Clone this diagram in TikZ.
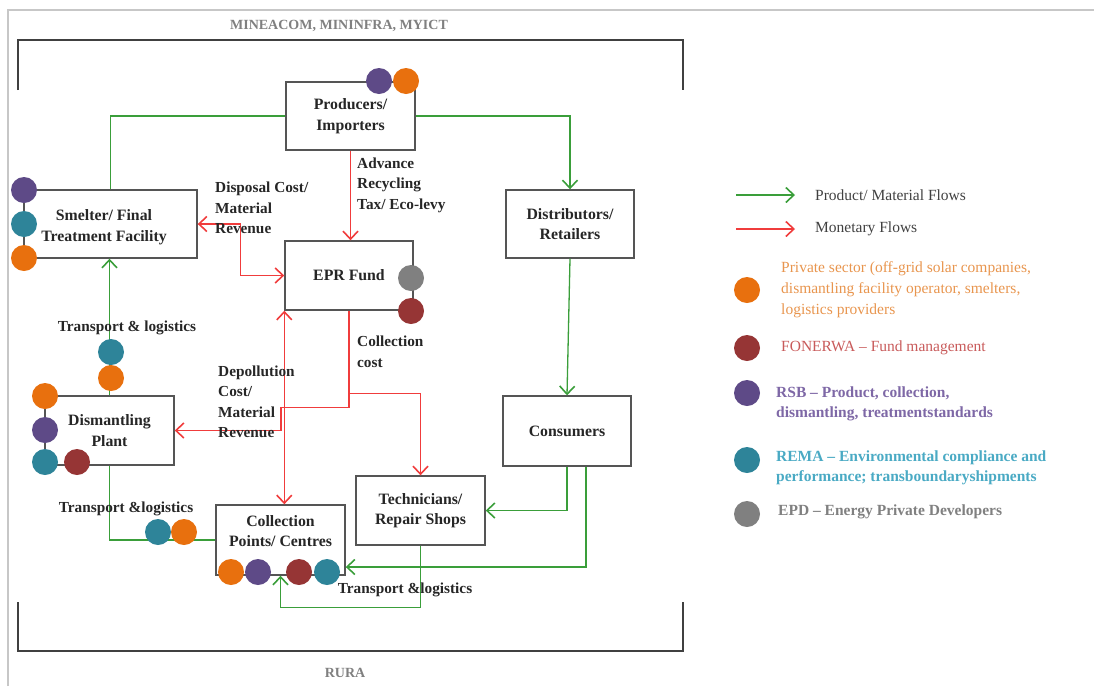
\documentclass[tikz,border=0pt]{standalone}
\usepackage{fontspec}
\setmainfont{Liberation Serif}
\usetikzlibrary{arrows.meta,calc}

\definecolor{cOrange}{HTML}{E8700E}
\definecolor{cPurple}{HTML}{5E4A87}
\definecolor{cTeal}{HTML}{2E8499}
\definecolor{cMaroon}{HTML}{963535}
\definecolor{cGray}{HTML}{808080}
\definecolor{flowGreen}{HTML}{3A9E3A}
\definecolor{flowRed}{HTML}{F03C3C}
\definecolor{edgeGray}{HTML}{555555}
\definecolor{txtOrange}{HTML}{E8954E}
\definecolor{txtMaroon}{HTML}{C85A5A}
\definecolor{txtPurple}{HTML}{7E68A6}
\definecolor{txtTeal}{HTML}{4AAAC4}

\tikzset{
  actor/.style={draw=edgeGray, line width=1.4pt, fill=white,
    minimum width=128pt, minimum height=68pt, align=center,
    font=\bfseries\fontsize{15.8}{20.5}\selectfont, text=black!85},
  dot/.style={circle, minimum size=26pt, inner sep=0pt},
  mat/.style={draw=flowGreen, line width=1.3pt},
  money/.style={draw=flowRed, line width=1.3pt},
  lbl/.style={font=\bfseries\fontsize{15.3}{20.5}\selectfont, align=left, text=black!85, inner sep=0pt},
  gov/.style={font=\bfseries\fontsize{14}{16}\selectfont, text=black!50},
  legtxt/.style={anchor=west, align=left, inner sep=0pt, font=\fontsize{15.5}{21}\selectfont},
}

\begin{document}
\begin{tikzpicture}[x=1pt, y=-1pt, >={Straight Barb[length=8pt,width=15pt,line width=1.6pt]}]
\useasboundingbox (0,0) rectangle (1094,686);

% page frame
\draw[black!22, line width=1.5pt] (8,686) -- (8,10) -- (1094,10);

% regulator brackets
\draw[black!75, line width=1.3pt] (18,90) -- (18,40) -- (683,40) -- (683,90);
\draw[black!75, line width=1.3pt] (18,602) -- (18,651) -- (683,651) -- (683,602);
\node[gov] (ministries) at (339,26) {MINEACOM, MININFRA, MYICT};
\node[gov] (rura) at (345,673) {RURA};

% actors
\node[actor, minimum width=129pt] (prod) at (350.5,116) {Producers/\\Importers};
\node[actor, minimum width=173pt] (smelt) at (110.5,224) {};
\node[lbl, align=center, font=\bfseries\fontsize{15.8}{20.5}\selectfont] (smelttxt) at (104,227) {Smelter/ Final\\Treatment Facility};
\node[actor, minimum height=69pt] (epr) at (349,275.5) {EPR Fund};
\node[actor] (dist) at (570,224) {Distributors/\\Retailers};
\node[actor, minimum width=129pt, minimum height=69pt] (dism) at (109.5,430.5) {Dismantling\\Plant};
\node[actor, minimum height=70pt] (cons) at (567,431) {Consumers};
\node[actor, minimum width=129pt, minimum height=69pt] (tech) at (420.5,510.5) {Technicians/\\Repair Shops};
\node[actor, minimum width=129pt, minimum height=70pt] (coll) at (280.5,540) {};
\node[lbl, align=center, font=\bfseries\fontsize{15.8}{20.5}\selectfont] (colltxt) at (280.5,531) {Collection\\Points/ Centres};

% product / material flows
\draw[mat] (prod.west) -| (smelt.north);
\draw[mat,->] (prod.east) -| (dist.north);
\draw[mat,->] (dist.south) -- (cons.north);
\draw[mat,->] (cons.south) |- (tech.east);
\draw[mat,->] ($(cons.south)+(19,0)$) |- ($(coll.east)+(0,27)$);
\draw[mat,->] (tech.south) -- ++(0,62) -| (coll.south);
\draw[mat] (dism.south) |- (coll.west);
\draw[mat,->] (dism.north) -- (dism.north |- smelt.south);

% monetary flows
\draw[money,->] (prod.south) -- (prod.south |- epr.north);
\draw[money,<->] (smelt.east) -- ++(43,0) |- (epr.west);
\draw[money,<->] (epr.south west) -- (epr.south west |- coll.north);
\draw[money,->] (epr.south) -- ++(0,97) -- ++(-68,0) |- (dism.east);
\draw[money,->] ($(epr.south)+(0,83)$) -| (tech.north);

% flow labels
\node[lbl, anchor=west] (arf) at (357,185) {Advance\\Recycling\\Tax/ Eco-levy};
\node[lbl, anchor=west] (disp) at (215,208) {Disposal Cost/\\Material\\Revenue};
\node[lbl, anchor=west] (ccost) at (357,352) {Collection\\cost};
\node[lbl, anchor=west] (depol) at (218,402) {Depollution\\Cost/\\Material\\Revenue};
\node[lbl] (tl1) at (127,328) {Transport \& logistics};
\node[lbl] (tl2) at (126,509) {Transport \&logistics};
\node[lbl] (tl3) at (405,590) {Transport \&logistics};

% stakeholder markers
\node[dot, fill=cPurple] (p1) at (379,81) {};
\node[dot, fill=cOrange] (p2) at (406,81) {};
\node[dot, fill=cPurple] (s1) at (24,190) {};
\node[dot, fill=cTeal] (s2) at (24,224) {};
\node[dot, fill=cOrange] (s3) at (24,258) {};
\node[dot, fill=cGray] (e1) at (411,278) {};
\node[dot, fill=cMaroon] (e2) at (411,311) {};
\node[dot, fill=cTeal] (t1) at (111,352) {};
\node[dot, fill=cOrange] (t2) at (111,378) {};
\node[dot, fill=cOrange] (d1) at (45,396) {};
\node[dot, fill=cPurple] (d2) at (45,430) {};
\node[dot, fill=cTeal] (d3) at (45,462) {};
\node[dot, fill=cMaroon] (d4) at (77,462) {};
\node[dot, fill=cTeal] (t3) at (158,532) {};
\node[dot, fill=cOrange] (t4) at (184,532) {};
\node[dot, fill=cOrange] (c1) at (231,572) {};
\node[dot, fill=cPurple] (c2) at (258,572) {};
\node[dot, fill=cMaroon] (c3) at (299,572) {};
\node[dot, fill=cTeal] (c4) at (327,572) {};

% legend
\node[legtxt, text=black!75] (lgmat) at (815,195) {Product/ Material Flows};
\draw[mat,->, line width=1.8pt] ($(lgmat.west)+(-79,0)$) -- ($(lgmat.west)+(-20,0)$);
\node[legtxt, text=black!75] (lgmon) at (815,229) {Monetary Flows};
\draw[money,->, line width=1.8pt] ($(lgmon.west)+(-79,0)$) -- ($(lgmon.west)+(-20,0)$);

\node[dot, fill=cOrange] (lo) at (747,290) {};
\node[legtxt, text=txtOrange] (lotxt) at (781,290) {Private sector (off-grid solar companies,\\dismantling facility operator, smelters,\\logistics providers};
\node[dot, fill=cMaroon] (lm) at (747,348) {};
\node[legtxt, text=txtMaroon] (lmtxt) at (781,348) {FONERWA -- Fund management};
\node[dot, fill=cPurple] (lp) at (747,393) {};
\node[legtxt, text=txtPurple, font=\bfseries\fontsize{15.5}{19.5}\selectfont] (lptxt) at (776,404) {RSB -- Product, collection,\\dismantling, treatmentstandards};
\node[dot, fill=cTeal] (lt) at (747,460) {};
\node[legtxt, text=txtTeal, font=\bfseries\fontsize{15.5}{20}\selectfont] (lttxt) at (776,468) {REMA -- Environmental compliance and\\performance; transboundaryshipments};
\node[dot, fill=cGray] (lg) at (747,514) {};
\node[legtxt, text=black!50, font=\bfseries\fontsize{15.5}{20}\selectfont] (lgtxt) at (778,512) {EPD -- Energy Private Developers};
\end{tikzpicture}
\end{document}
